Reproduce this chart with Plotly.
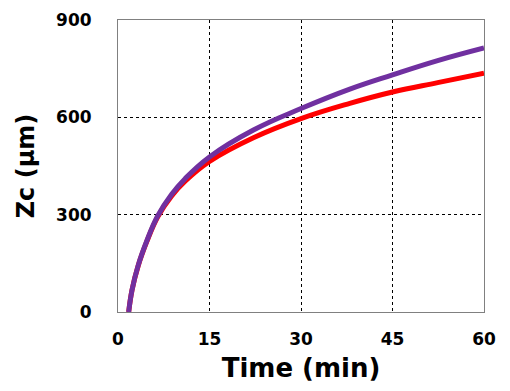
import plotly.graph_objects as go

time_purple = [1.75, 2.3, 3.3, 4.7, 6.5, 8.8, 11.0, 15, 22.2, 30, 38, 45, 52.4, 60]
zc_purple = [0, 68, 143, 218, 296, 363, 411, 478, 561, 627, 687, 731, 775, 814]
time_red = [1.75, 2.3, 3.3, 4.7, 6.5, 8.8, 11.0, 15, 22.2, 30, 38, 45, 52.4, 60]
zc_red = [0, 68, 142, 216, 293, 358, 403, 464, 537, 596, 643, 678, 707, 736]
x_ticks = [0, 15, 30, 45, 60]
y_ticks = [0, 300, 600, 900]

fig = go.Figure()
fig.add_trace(go.Scatter(x=time_red, y=zc_red, mode="lines",
                         line=dict(color="#FF0000", width=5, shape="spline", smoothing=1.2),
                         showlegend=False))
fig.add_trace(go.Scatter(x=time_purple, y=zc_purple, mode="lines",
                         line=dict(color="#7030A0", width=5, shape="spline", smoothing=1.2),
                         showlegend=False))

font_family = "DejaVu Sans"
# page body has an 8px margin, so the figure is sized and offset to compensate
fig.update_layout(
    width=502, height=383,
    margin=dict(l=110, r=26, t=12, b=79, autoexpand=False),
    paper_bgcolor="white", plot_bgcolor="white",
    font=dict(family=font_family, color="black"),
)
fig.update_xaxes(
    range=[0, 60], tickvals=x_ticks, ticktext=[str(v) for v in x_ticks],
    showgrid=True, gridcolor="black", griddash="dot", gridwidth=1,
    showline=True, linecolor="#808080", linewidth=1, mirror=True,
    zeroline=False, ticks="", ticklabelstandoff=12, automargin=False,
    tickfont=dict(size=17, family=font_family, weight="bold"),
    title=dict(text="<b>Time (min)</b>", font=dict(size=26, family=font_family), standoff=10),
)
fig.update_yaxes(
    range=[0, 900], tickvals=y_ticks, ticktext=[str(v) for v in y_ticks],
    showgrid=True, gridcolor="black", griddash="dot", gridwidth=1,
    showline=True, linecolor="#808080", linewidth=1, mirror=True,
    zeroline=False, ticks="", ticklabelstandoff=22, automargin=False,
    tickfont=dict(size=17, family=font_family, weight="bold"),
    title=dict(text="<b>Zc (μm)</b>", font=dict(size=24, family=font_family), standoff=14),
)
fig.write_html("out.html")
